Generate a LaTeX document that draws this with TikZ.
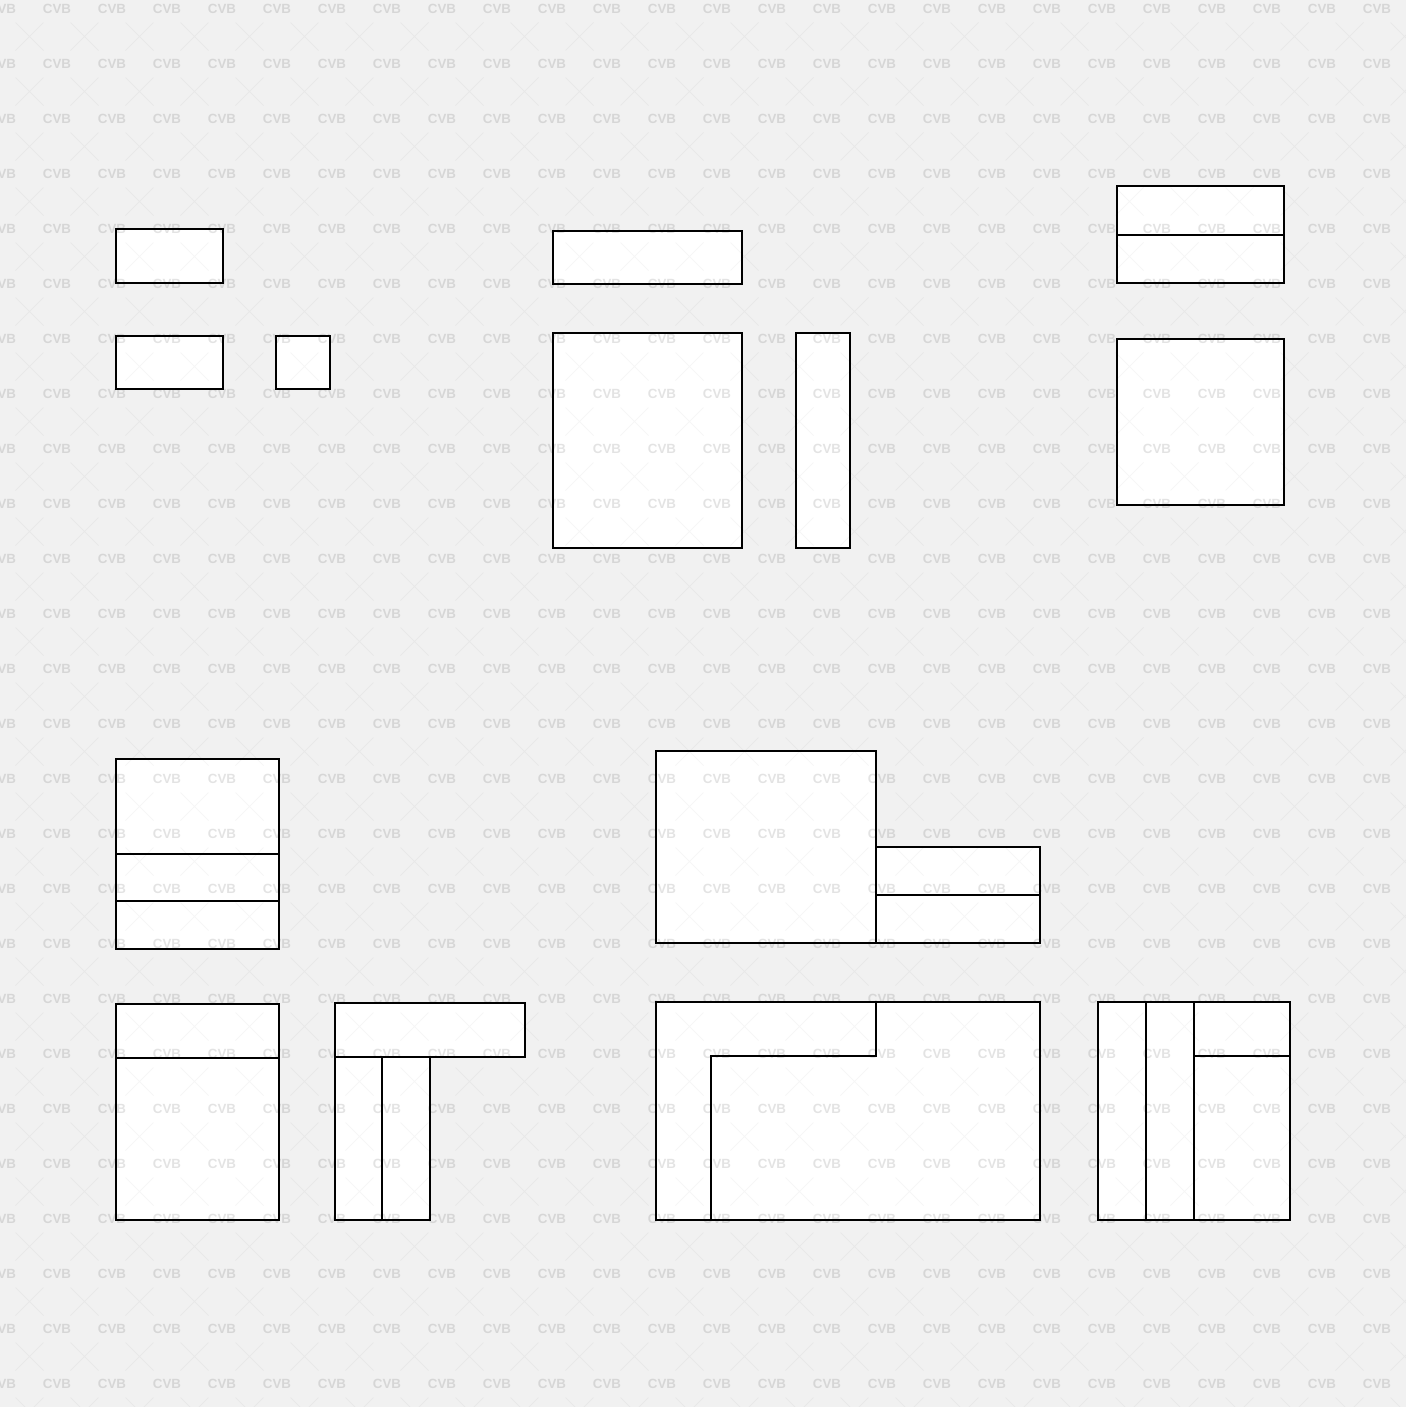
\documentclass[tikz,border=0pt]{standalone}
\usepackage{fontspec}
\newfontfamily\wmfont{Liberation Sans}
\definecolor{bgcol}{HTML}{F1F1F1}
\tikzset{
  piece/.style={draw=black, fill=white, line width=0.04cm, line join=miter},
  seam/.style={draw=black, line width=0.04cm},
  wmtext/.style={text=black, text opacity=0.11, font=\wmfont\bfseries\fontsize{7.6}{8}\selectfont, inner sep=0pt},
  wmcross/.style={draw=black, draw opacity=0.035, line width=0.02cm}
}
\begin{document}
\begin{tikzpicture}[x=0.02cm, y=-0.02cm]
\fill[bgcol] (0,0) rectangle (1406,1407);
\useasboundingbox (0,0) rectangle (1406,1407);

% --- group 1 (top left)
\draw[piece] (116,229) rectangle (223,283);
\draw[piece] (116,336) rectangle (223,389);
\draw[piece] (276,336) rectangle (330,389);

% --- group 2 (top middle)
\draw[piece] (553,231) rectangle (742,284);
\draw[piece] (553,333) rectangle (742,548);
\draw[piece] (796,333) rectangle (850,548);

% --- group 3 (top right)
\draw[piece] (1117,186) rectangle (1284,283);
\draw[seam] (1117,234.5) -- (1284,234.5);
\draw[piece] (1117,338.5) rectangle (1284,505);

% --- group 4 (middle left)
\draw[piece] (116,758.5) rectangle (278.5,948.5);
\draw[seam] (116,853.5) -- (278.5,853.5);
\draw[seam] (116,901) -- (278.5,901);

% --- group 5 (middle)
\draw[piece] (656,751) rectangle (875.5,942.5);
\draw[piece] (875.5,847) rectangle (1039.5,942.5);
\draw[seam] (875.5,894.5) -- (1039.5,894.5);

% --- group 6 (bottom left)
\draw[piece] (116,1003.5) rectangle (278.5,1220);
\draw[seam] (116,1057.5) -- (278.5,1057.5);

% --- group 7 (L-shape)
\draw[piece] (334.5,1003) rectangle (524.5,1056.5);
\draw[piece] (334.5,1056.5) rectangle (429.5,1219.5);
\draw[seam] (381.5,1056.5) -- (381.5,1219.5);

% --- group 8 (large corner)
\draw[piece] (656,1001.5) rectangle (1039.5,1220);
\draw[seam] (875.5,1001.5) -- (875.5,1056) -- (711,1056) -- (711,1220);

% --- group 9 (bottom right)
\draw[piece] (1098,1001.5) rectangle (1290,1220);
\draw[seam] (1146,1001.5) -- (1146,1220);
\draw[seam] (1194,1001.5) -- (1194,1220);
\draw[seam] (1194,1055.5) -- (1290,1055.5);

% --- watermark pattern
\foreach \i in {0,...,25} {
  \foreach \j in {0,...,25} {
    \node[wmtext] (wm-\i-\j) at ({2+55*\i},{9+55*\j}) {CVB};
    \draw[wmcross] ({15.5+55*\i},{22.5+55*\j}) -- ({43.5+55*\i},{50.5+55*\j})
                   ({15.5+55*\i},{50.5+55*\j}) -- ({43.5+55*\i},{22.5+55*\j});
  }
}
\end{tikzpicture}
\end{document}
